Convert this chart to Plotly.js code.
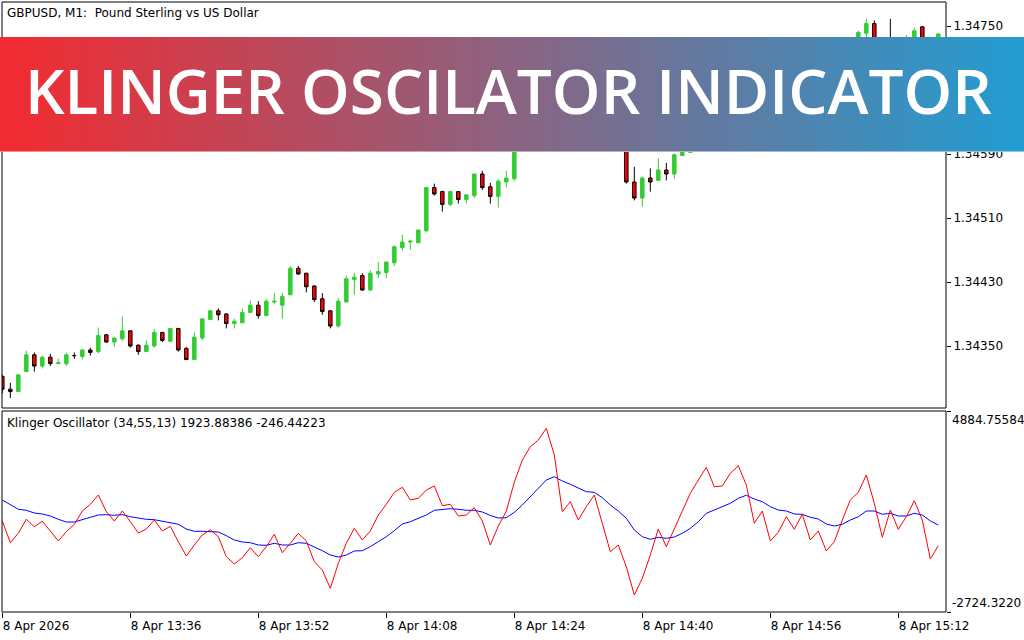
<!DOCTYPE html>
<html>
<head>
<meta charset="utf-8">
<script src="https://cdn.plot.ly/plotly-3.0.1.min.js"></script>
<style>
html,body{margin:0;padding:0;background:#ffffff;}
#chart{width:1024px;height:640px;}
</style>
</head>
<body>
<div id="chart"></div>
<script>
// ---------------- DATA ----------------
// GBPUSD M1 bars, 8 Apr 2026 starting 13:20 (one bar per minute)
const priceOpen = [1.34312,1.34296,1.34293,1.34318,1.34339,1.34325,1.34336,1.34328,1.34328,1.34338,
1.34337,1.34345,1.34343,1.34364,1.34355,1.34359,1.34369,1.34351,1.34343,1.34350,
1.34367,1.34356,1.34372,1.34347,1.34333,1.34360,1.34383,1.34394,1.34390,1.34378,
1.34379,1.34392,1.34401,1.34388,1.34405,1.34401,1.34414,1.34447,1.34441,1.34425,
1.34409,1.34394,1.34375,1.34405,1.34433,1.34438,1.34420,1.34440,1.34442,1.34454,
1.34473,1.34480,1.34479,1.34494,1.34548,1.34543,1.34527,1.34543,1.34533,1.34538,
1.34565,1.34549,1.34537,1.34555,1.34559,1.34612,1.34630,1.34648,1.34662,1.34675,
1.34660,1.34668,1.34655,1.34662,1.34650,1.34640,1.34628,1.34615,1.34622,1.34555,
1.34535,1.34560,1.34557,1.34570,1.34565,1.34588,1.34592,1.34608,1.34625,1.34640,
1.34632,1.34650,1.34665,1.34672,1.34658,1.34664,1.34650,1.34656,1.34645,1.34652,
1.34660,1.34654,1.34668,1.34680,1.34692,1.34705,1.34716,1.34725,1.34741,1.34753,
1.34728,1.34725,1.34712,1.34720,1.34730,1.34749,1.34722,1.34728];
const priceHigh = [1.34314,1.34304,1.34314,1.34344,1.34342,1.34338,1.34340,1.34334,1.34342,1.34342,
1.34346,1.34348,1.34373,1.34365,1.34361,1.34387,1.34369,1.34352,1.34357,1.34371,
1.34367,1.34372,1.34372,1.34349,1.34367,1.34384,1.34395,1.34397,1.34391,1.34384,
1.34397,1.34407,1.34406,1.34409,1.34416,1.34416,1.34450,1.34450,1.34441,1.34426,
1.34416,1.34394,1.34410,1.34438,1.34441,1.34441,1.34445,1.34455,1.34455,1.34476,
1.34489,1.34483,1.34495,1.34549,1.34553,1.34544,1.34544,1.34543,1.34539,1.34565,
1.34569,1.34554,1.34559,1.34569,1.34615,1.34634,1.34652,1.34668,1.34680,1.34682,
1.34672,1.34673,1.34666,1.34665,1.34655,1.34643,1.34630,1.34628,1.34626,1.34574,
1.34562,1.34572,1.34585,1.34579,1.34591,1.34606,1.34612,1.34630,1.34645,1.34646,
1.34655,1.34670,1.34678,1.34676,1.34669,1.34667,1.34662,1.34660,1.34658,1.34665,
1.34666,1.34672,1.34685,1.34698,1.34710,1.34722,1.34732,1.34744,1.34759,1.34757,
1.34732,1.34759,1.34726,1.34739,1.34748,1.34750,1.34733,1.34741];
const priceLow = [1.34291,1.34285,1.34293,1.34318,1.34318,1.34322,1.34325,1.34328,1.34325,1.34334,
1.34333,1.34338,1.34341,1.34354,1.34349,1.34356,1.34348,1.34339,1.34343,1.34348,
1.34355,1.34355,1.34343,1.34333,1.34333,1.34357,1.34383,1.34382,1.34372,1.34372,
1.34379,1.34392,1.34384,1.34388,1.34402,1.34384,1.34414,1.34439,1.34417,1.34405,
1.34389,1.34372,1.34373,1.34405,1.34414,1.34419,1.34419,1.34435,1.34435,1.34450,
1.34469,1.34470,1.34479,1.34492,1.34538,1.34518,1.34525,1.34528,1.34528,1.34535,
1.34545,1.34528,1.34523,1.34548,1.34556,1.34608,1.34625,1.34642,1.34655,1.34656,
1.34652,1.34650,1.34648,1.34645,1.34635,1.34622,1.34593,1.34608,1.34553,1.34532,
1.34524,1.34543,1.34557,1.34557,1.34559,1.34588,1.34592,1.34604,1.34620,1.34626,
1.34628,1.34646,1.34660,1.34652,1.34650,1.34645,1.34644,1.34640,1.34641,1.34648,
1.34649,1.34650,1.34663,1.34676,1.34688,1.34700,1.34712,1.34720,1.34735,1.34722,
1.34712,1.34706,1.34708,1.34716,1.34725,1.34716,1.34715,1.34722];
const priceClose = [1.34296,1.34293,1.34314,1.34339,1.34325,1.34336,1.34328,1.34329,1.34339,1.34338,
1.34345,1.34342,1.34363,1.34355,1.34360,1.34369,1.34350,1.34343,1.34351,1.34367,
1.34357,1.34372,1.34345,1.34333,1.34361,1.34384,1.34394,1.34389,1.34378,1.34381,
1.34392,1.34401,1.34388,1.34406,1.34406,1.34412,1.34447,1.34440,1.34424,1.34408,
1.34393,1.34375,1.34406,1.34434,1.34436,1.34420,1.34441,1.34443,1.34455,1.34474,
1.34480,1.34481,1.34495,1.34548,1.34540,1.34527,1.34543,1.34533,1.34539,1.34565,
1.34548,1.34537,1.34556,1.34560,1.34612,1.34630,1.34648,1.34662,1.34675,1.34660,
1.34668,1.34655,1.34662,1.34650,1.34640,1.34628,1.34615,1.34622,1.34555,1.34535,
1.34560,1.34555,1.34570,1.34565,1.34589,1.34602,1.34608,1.34625,1.34640,1.34632,
1.34650,1.34665,1.34672,1.34658,1.34664,1.34650,1.34656,1.34645,1.34652,1.34660,
1.34654,1.34668,1.34680,1.34692,1.34705,1.34716,1.34728,1.34742,1.34753,1.34728,
1.34718,1.34712,1.34720,1.34732,1.34744,1.34722,1.34728,1.34740];

// Klinger Oscillator (34,55,13): main line and signal line
const klingerMain = [721,-101,255,785,505,709,342,-36,316,596,
1099,1353,1705,1073,721,1099,694,266,418,758,
342,520,-63,-604,-188,191,391,126,-631,-907,
-669,-290,-631,-252,217,-479,-124,255,-36,-820,
-1134,-1827,-881,-124,444,1,342,948,1353,1807,
1996,1516,1580,1894,2046,1300,1353,910,948,1224,
721,-188,531,1099,2186,3030,3533,3787,4230,3219,
1073,1451,758,1262,1705,634,-442,-188,-1009,-2081,
-1448,-566,418,-252,444,1073,1769,2273,2753,2019,
2046,2526,2814,2083,634,1099,-36,293,883,406,
974,1,342,-415,-63,758,1516,1807,2462,1391,
104,1137,406,883,1489,758,-718,-214];
const klingerSignal = [1516,1326,1164,1126,1024,986,910,785,683,683,
758,861,948,959,937,959,883,823,785,770,
709,672,596,418,331,331,331,304,164,1,
-74,-101,-188,-199,-124,-188,-188,-101,-124,-252,
-404,-566,-642,-566,-415,-404,-252,-63,126,354,
607,694,823,948,1126,1164,1186,1164,1126,1126,
1061,929,834,845,1050,1326,1641,1958,2273,2398,
2235,2110,1958,1830,1807,1603,1326,1099,823,380,
126,28,104,66,115,255,444,694,1012,1137,
1262,1391,1580,1694,1553,1451,1262,1137,1099,986,
974,861,796,607,531,596,758,883,1099,1099,
974,1012,910,910,1012,948,721,569];

const timeTickBars = [0,16,32,48,64,80,96,112];
const timeTickLabels = ["8 Apr 2026","8 Apr 13:36","8 Apr 13:52","8 Apr 14:08","8 Apr 14:24","8 Apr 14:40","8 Apr 14:56","8 Apr 15:12"];
// visible price grid labels (1.34670 lies under the banner in the reference)
const priceTicks = [1.34350,1.34430,1.34510,1.34590,1.34750];
const klingerScale = [-2724.3220, 4884.75584];
const klingerScaleLabels = ["-2724.3220","4884.75584"];

const chartTitle = "GBPUSD, M1:\u00a0\u00a0Pound Sterling vs US Dollar";
const indicatorTitle = "Klinger Oscillator (34,55,13) 1923.88386 -246.44223";
const bannerText = "KLINGER OSCILATOR INDICATOR";

// ---------------- LAYOUT HELPERS ----------------
const W = 1024, H = 640;
const M = {l: 2, r: 78, t: 2, b: 28};
const PW = W - M.l - M.r, PH = H - M.t - M.b;
const px2x = X => (X - M.l) / PW;
const px2y = Y => (H - M.b - Y) / PH;

const bars = priceOpen.map((_, i) => i);

const FONT = "DejaVu Sans, Tahoma, sans-serif";
const FS = 12;
const topDomain = [px2y(408), 1];
const botDomain = [0, px2y(411)];

const traces = [
  {
    type: "candlestick",
    x: bars, open: priceOpen, high: priceHigh, low: priceLow, close: priceClose,
    xaxis: "x", yaxis: "y",
    increasing: {line: {color: "#32cd32", width: 1}, fillcolor: "#32cd32"},
    decreasing: {line: {color: "#000000", width: 1}, fillcolor: "#ff0000"},
    whiskerwidth: 0,
    hoverinfo: "skip",
    showlegend: false
  },
  {
    type: "scatter", mode: "lines",
    x: bars, y: klingerSignal, xaxis: "x", yaxis: "y2",
    line: {color: "#0000ff", width: 1},
    hoverinfo: "skip", showlegend: false
  },
  {
    type: "scatter", mode: "lines",
    x: bars, y: klingerMain, xaxis: "x", yaxis: "y2",
    line: {color: "#ff0000", width: 1},
    hoverinfo: "skip", showlegend: false
  }
];

const shapes = [
  {type: "rect", xref: "paper", yref: "paper", x0: 0, x1: 1, y0: topDomain[0], y1: 1,
   line: {color: "#000000", width: 1}, fillcolor: "rgba(0,0,0,0)", layer: "above"},
  {type: "rect", xref: "paper", yref: "paper", x0: 0, x1: 1, y0: 0, y1: botDomain[1],
   line: {color: "#000000", width: 1}, fillcolor: "rgba(0,0,0,0)", layer: "above"}
];

// banner with horizontal gradient (red -> blue)
const gradLeft = [243, 42, 48], gradRight = [34, 157, 210];
const bannerTop = 37, bannerBottom = 152;
const N = 128;
for (let i = 0; i < N; i++) {
  const t = (i + 0.5) / N;
  const c = gradLeft.map((v, j) => Math.round(v + (gradRight[j] - v) * t));
  const X0 = i * W / N, X1 = (i + 1) * W / N + 0.7;
  shapes.push({type: "rect", xref: "paper", yref: "paper",
    x0: px2x(X0), x1: px2x(X1), y0: px2y(bannerBottom), y1: px2y(bannerTop),
    fillcolor: `rgb(${c[0]},${c[1]},${c[2]})`, line: {width: 0}, layer: "above"});
}
shapes.push({type: "line", xref: "paper", yref: "paper", x0: px2x(0), x1: px2x(W),
  y0: px2y(bannerBottom - 0.5), y1: px2y(bannerBottom - 0.5),
  line: {color: "rgba(255,255,255,0.45)", width: 1}, layer: "above"});

const annotations = [
  {text: chartTitle, xref: "paper", yref: "paper", x: px2x(5), y: px2y(13),
   xanchor: "left", yanchor: "middle", showarrow: false,
   font: {family: FONT, size: FS, color: "#000000"}},
  {text: indicatorTitle, xref: "paper", yref: "paper", x: px2x(5), y: px2y(423),
   xanchor: "left", yanchor: "middle", showarrow: false,
   font: {family: FONT, size: FS, color: "#000000"}},
  {text: klingerScaleLabels[1], xref: "paper", yref: "y2", x: 1, y: klingerScale[1],
   xanchor: "left", yanchor: "top", xshift: 4, yshift: 0, showarrow: false,
   font: {family: FONT, size: FS, color: "#000000"}},
  {text: klingerScaleLabels[0], xref: "paper", yref: "y2", x: 1, y: klingerScale[0],
   xanchor: "left", yanchor: "bottom", xshift: 4, yshift: 0, showarrow: false,
   font: {family: FONT, size: FS, color: "#000000"}},
  {text: bannerText, xref: "paper", yref: "paper", x: px2x(508), y: px2y(90),
   xanchor: "center", yanchor: "middle", showarrow: false,
   font: {family: "Open Sans, sans-serif", size: 62, color: "#ffffff", weight: 600}}
];

const layout = {
  width: W, height: H,
  margin: M,
  paper_bgcolor: "#ffffff", plot_bgcolor: "#ffffff",
  showlegend: false,
  hovermode: false,
  dragmode: false,
  boxgap: 0.38,
  xaxis: {
    range: [-0.04, 117.96], anchor: "y2", domain: [0, 1],
    showgrid: false, zeroline: false, showline: false,
    ticks: "outside", ticklen: 5, tickwidth: 1, tickcolor: "#000000",
    tickvals: timeTickBars, ticktext: timeTickLabels,
    ticklabelposition: "outside right",
    ticklabelstandoff: 3,
    tickfont: {family: FONT, size: FS, color: "#000000"},
    rangeslider: {visible: false},
    fixedrange: true
  },
  yaxis: {
    domain: topDomain, anchor: "x", side: "right",
    range: [1.342725, 1.34780],
    showgrid: false, zeroline: false, showline: false,
    ticks: "outside", ticklen: 4, tickwidth: 1, tickcolor: "#000000",
    tickvals: priceTicks, tickformat: ".5f",
    tickfont: {family: FONT, size: FS, color: "#000000"},
    fixedrange: true
  },
  yaxis2: {
    domain: botDomain, anchor: "x", side: "right",
    range: klingerScale,
    showgrid: false, zeroline: false, showline: false,
    ticks: "outside", ticklen: 4, tickwidth: 1, tickcolor: "#000000",
    tickvals: klingerScale, showticklabels: false,
    fixedrange: true
  },
  shapes: shapes,
  annotations: annotations
};

Plotly.newPlot("chart", traces, layout, {staticPlot: true, displayModeBar: false});
</script>
</body>
</html>
